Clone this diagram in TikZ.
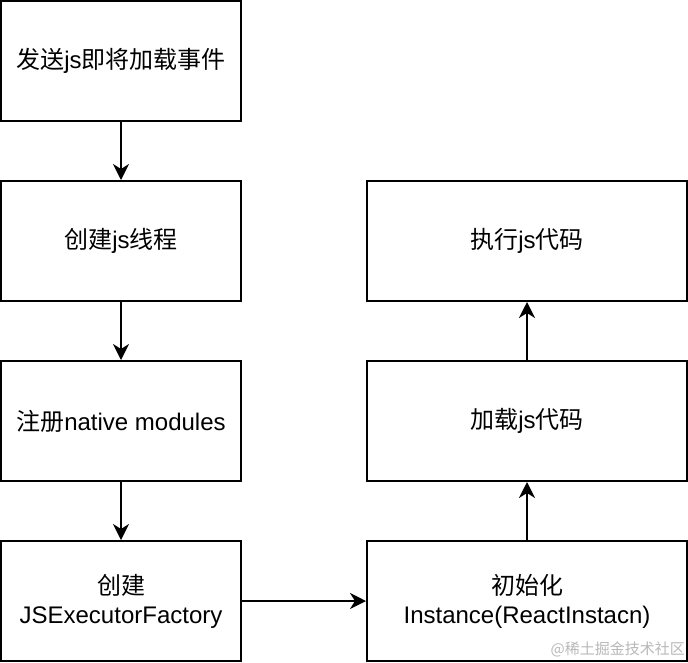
\documentclass[tikz,border=0pt]{standalone}
\usepackage{fontspec}
\setmainfont{Liberation Sans}
\newfontfamily\cjk{Noto Sans CJK SC}
\usetikzlibrary{arrows.meta}
\begin{document}
\begin{tikzpicture}[x=1pt,y=-1pt,
  box/.style={draw=black,line width=2pt,fill=white,inner sep=0pt,
    minimum height=120pt,align=center,font=\fontsize{24}{29}\selectfont},
  lbox/.style={box,minimum width=240pt},
  rbox/.style={box,minimum width=320pt},
  conn/.style={line width=2pt,-{Stealth[length=16pt,width=16pt,inset=5pt]}},
  wm/.style={text=black!28,font=\cjk\fontsize{15}{18}\selectfont,inner sep=0pt}]
\useasboundingbox (0,0) rectangle (688,662);
\node[lbox] (a) at (121,61) {{\cjk 发送}js{\cjk 即将加载事件}};
\node[lbox] (b) at (121,241) {{\cjk 创建}js{\cjk 线程}};
\node[lbox] (c) at (121,421) {{\cjk 注册}native modules};
\node[lbox] (d) at (121,601) {{\cjk 创建}\\JSExecutorFactory};
\node[rbox] (e) at (527,601) {{\cjk 初始化}\\Instance(ReactInstacn)};
\node[rbox] (f) at (527,421) {{\cjk 加载}js{\cjk 代码}};
\node[rbox] (g) at (527,241) {{\cjk 执行}js{\cjk 代码}};
\draw[conn] (a) -- (b);
\draw[conn] (b) -- (c);
\draw[conn] (c) -- (d);
\draw[conn] (d) -- (e);
\draw[conn] (e) -- (f);
\draw[conn] (f) -- (g);
\node[wm,anchor=east] (w) at (685,649) {@稀土掘金技术社区};
\end{tikzpicture}
\end{document}
